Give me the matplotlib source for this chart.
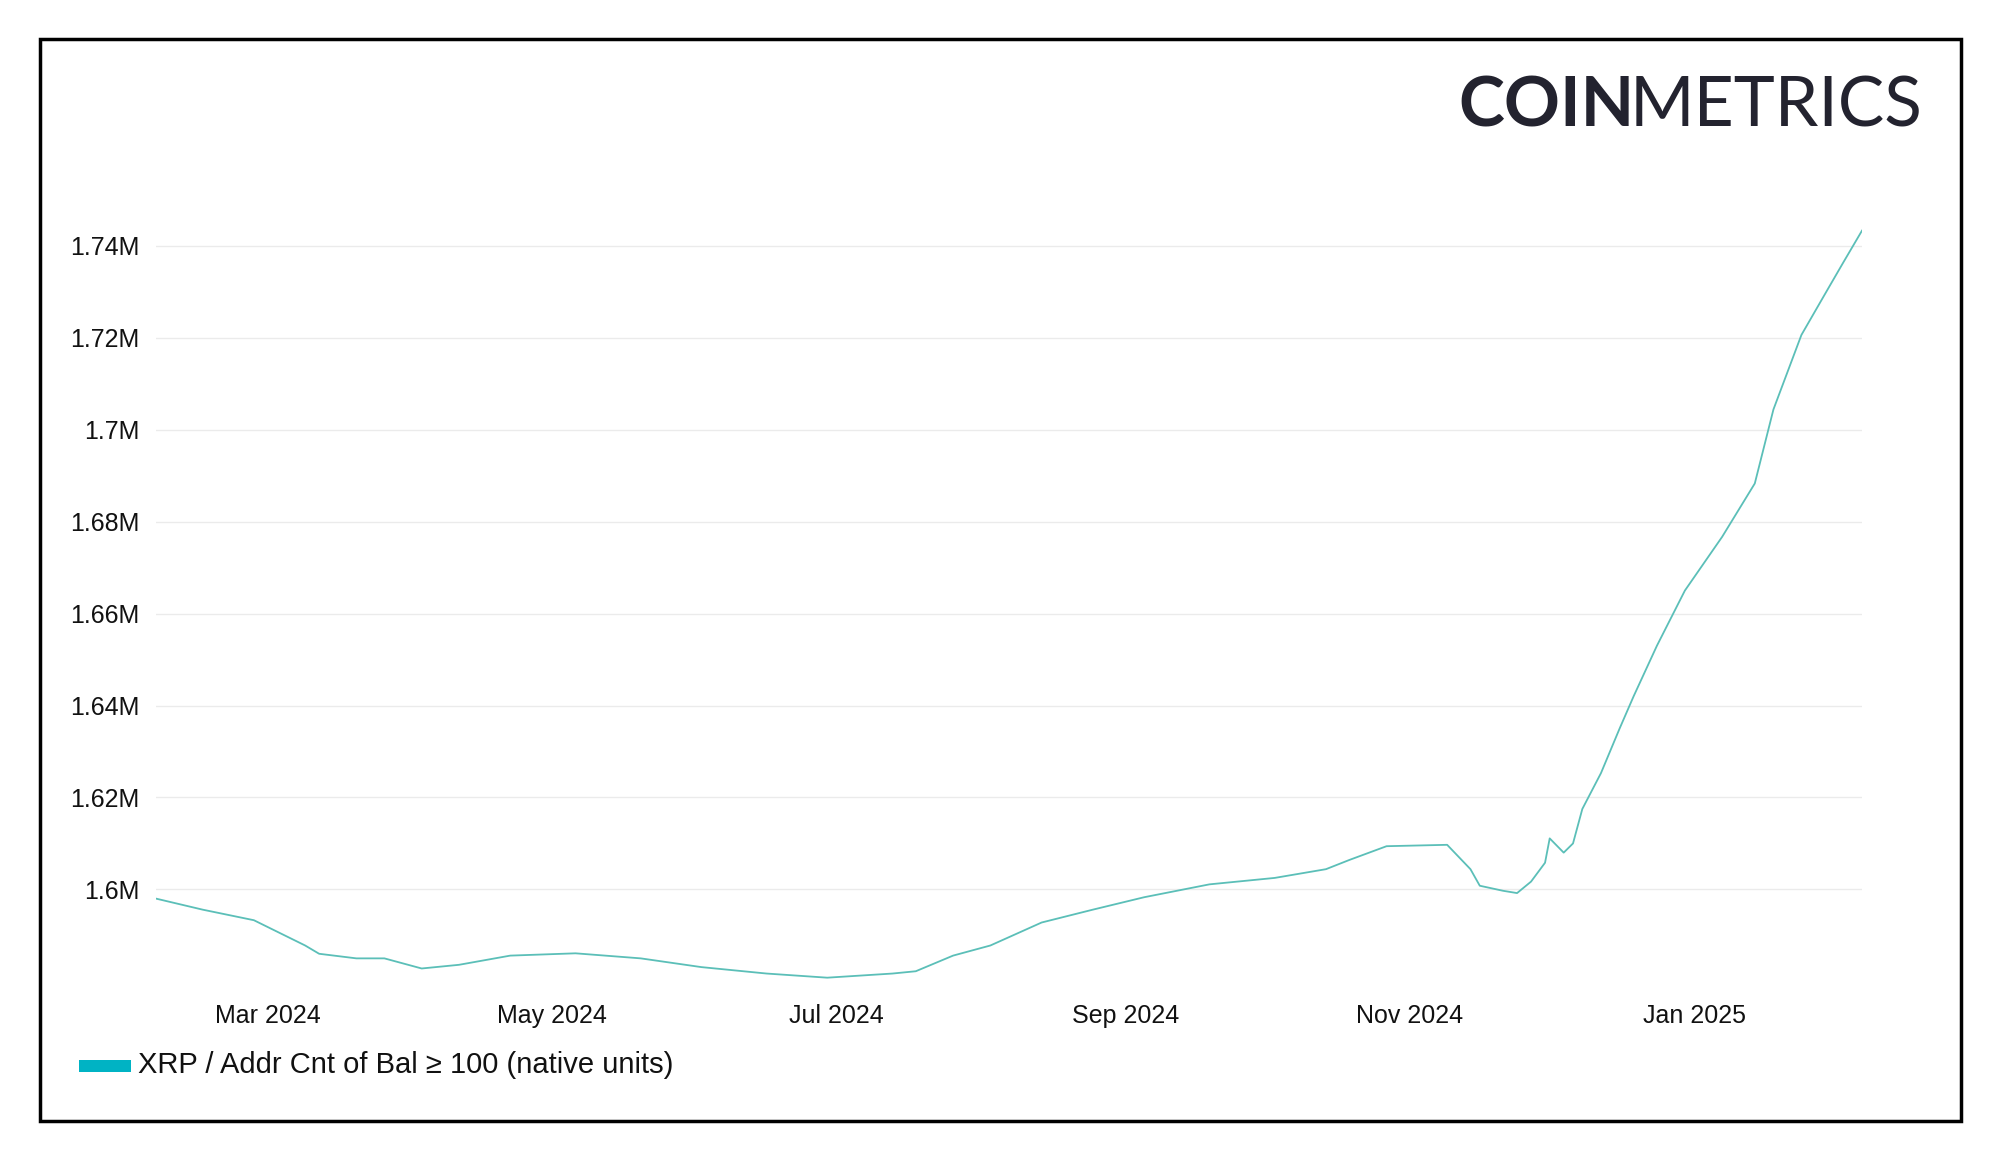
import matplotlib
matplotlib.use("Agg")
import matplotlib.pyplot as plt
import pandas as pd
from matplotlib.patches import Rectangle

plt.rcParams["font.family"] = "Liberation Sans"

dates = ["2024-02-06", "2024-02-16", "2024-02-27", "2024-03-09", "2024-03-12", "2024-03-20",
         "2024-03-26", "2024-04-03", "2024-04-11", "2024-04-22", "2024-05-06", "2024-05-20",
         "2024-06-02", "2024-06-16", "2024-06-29", "2024-07-13", "2024-07-18", "2024-07-26",
         "2024-08-03", "2024-08-14", "2024-08-25", "2024-09-05", "2024-09-19", "2024-10-03",
         "2024-10-14", "2024-10-19", "2024-10-27", "2024-11-09", "2024-11-14", "2024-11-16",
         "2024-11-21", "2024-11-24", "2024-11-27", "2024-11-30", "2024-12-01", "2024-12-04",
         "2024-12-06", "2024-12-08", "2024-12-12", "2024-12-16", "2024-12-19", "2024-12-24",
         "2024-12-30", "2025-01-07", "2025-01-14", "2025-01-18", "2025-01-24", "2025-01-29",
         "2025-02-02", "2025-02-06"]
values = [1.5980, 1.5956, 1.5933, 1.5878, 1.5860, 1.5850, 1.5850, 1.5828, 1.5836, 1.5856,
          1.5861, 1.5850, 1.5831, 1.5817, 1.5808, 1.5817, 1.5822, 1.5856, 1.5878, 1.5928,
          1.5956, 1.5983, 1.6011, 1.6025, 1.6044, 1.6064, 1.6094, 1.6097, 1.6044, 1.6008,
          1.5997, 1.5992, 1.6017, 1.6058, 1.6111, 1.6080, 1.6100, 1.6175, 1.6253, 1.6350,
          1.6420, 1.6530, 1.6650, 1.6767, 1.6883, 1.7044, 1.7206, 1.7294, 1.7364, 1.7433]
yticks = [1.60, 1.62, 1.64, 1.66, 1.68, 1.70, 1.72, 1.74]
ylabels = ["1.6M", "1.62M", "1.64M", "1.66M", "1.68M", "1.7M", "1.72M", "1.74M"]
xticks = ["2024-03-01", "2024-05-01", "2024-07-01", "2024-09-01", "2024-11-01", "2025-01-01"]
xlabels = ["Mar 2024", "May 2024", "Jul 2024", "Sep 2024", "Nov 2024", "Jan 2025"]

fig = plt.figure(figsize=(20, 11.58), dpi=100)
fig.patches.append(Rectangle((0.0198, 0.032), 0.9605, 0.934, transform=fig.transFigure,
                             fill=False, edgecolor="black", linewidth=2.5))
ax = fig.add_axes([0.078, 0.1446, 0.853, 0.663])
ax.plot(pd.to_datetime(dates), values, color="#5bbfb8", linewidth=1.3)
ax.set_xlim(pd.Timestamp(dates[0]), pd.Timestamp(dates[-1]))
ax.set_ylim(1.578, 1.745)
ax.set_yticks(yticks)
ax.set_yticklabels(ylabels)
ax.set_xticks(pd.to_datetime(xticks))
ax.set_xticklabels(xlabels)
ax.grid(axis="y", color="#ebebeb", linewidth=1)
for s in ax.spines.values():
    s.set_visible(False)
ax.tick_params(length=0, labelsize=18, colors="#111111", pad=12)
ax.tick_params(axis="x", pad=10)

fig.text(0.729, 0.908, "COIN", fontsize=50, fontweight="bold", color="#23232f",
         ha="left", va="center", family="Lato")
fig.text(0.815, 0.908, "METRICS", fontsize=50, fontweight="normal", color="#23232f",
         ha="left", va="center", family="Lato")

fig.patches.append(Rectangle((0.0395, 0.074), 0.026, 0.011, transform=fig.transFigure,
                             facecolor="#00b3c4", edgecolor="none"))
fig.text(0.069, 0.080, "XRP / Addr Cnt of Bal ≥ 100 (native units)", fontsize=21,
         color="#111111", ha="left", va="center")

fig.savefig("out.png", dpi=100, facecolor="white")
